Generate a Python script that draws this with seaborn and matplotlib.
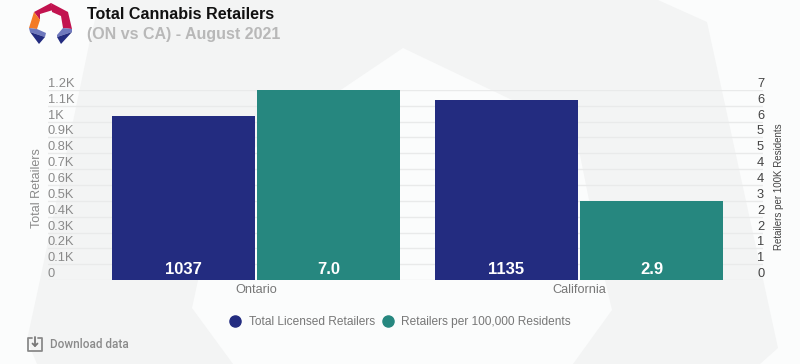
import matplotlib
matplotlib.use('Agg')
import numpy as np
import pandas as pd
import seaborn as sns
import matplotlib.pyplot as plt
from matplotlib.patches import Polygon
from matplotlib.lines import Line2D

regions = ['Ontario', 'California']
licensed = [1037, 1135]
per_100k = [7.0, 2.9]
licensed_name = 'Total Licensed Retailers'
per_100k_name = 'Retailers per 100,000 Residents'
left_ticks = [0, 100, 200, 300, 400, 500, 600, 700, 800, 900, 1000, 1100, 1200]
left_labels = ['0', '0.1K', '0.2K', '0.3K', '0.4K', '0.5K', '0.6K', '0.7K', '0.8K', '0.9K', '1K', '1.1K', '1.2K']
right_labels = ['0', '1', '1', '2', '2', '3', '4', '4', '5', '5', '6', '6', '7']

NAVY = '#232c80'
TEAL = '#26877f'
W, H = 800, 364

plt.rcParams['font.family'] = ['Liberation Sans', 'DejaVu Sans']

order = [licensed_name, per_100k_name]
colors = {licensed_name: NAVY, per_100k_name: TEAL}
# each axis gets both hue levels so the bars dodge, the other series is left empty
nan2 = [np.nan, np.nan]
df1 = pd.DataFrame({'region': regions * 2, 'value': licensed + nan2,
                    'series': [licensed_name] * 2 + [per_100k_name] * 2})
df2 = pd.DataFrame({'region': regions * 2, 'value': nan2 + per_100k,
                    'series': [licensed_name] * 2 + [per_100k_name] * 2})

fig = plt.figure(figsize=(W / 100, H / 100), dpi=100, facecolor='#fbfcfc')


def poly(points, color, z=0):
    # pixel coordinates, y going down
    fig.add_artist(Polygon([(x / W, 1 - y / H) for x, y in points], closed=True,
                           transform=fig.transFigure, facecolor=color,
                           edgecolor='none', zorder=z))


def line(xs, ys, color='#8a8a8a', lw=1.3):
    fig.add_artist(Line2D([x / W for x in xs], [1 - y / H for y in ys], color=color,
                          linewidth=lw, zorder=7, solid_capstyle='round'))


# watermark in the background
poly([(100, 0), (658, 0), (707, 22), (778, 348), (760, 364), (573, 364), (612, 310), (605, 280), (575, 130),
      (403, 48), (222, 170), (192, 308), (233, 364), (37, 364), (27, 340), (40, 280), (90, 40)],
     '#f3f4f4', -5)

# logo
poly([(34, 12), (51, 3), (53, 10), (40, 14), (40, 20)], '#c2134f', 5)
poly([(51, 3), (68, 12), (72, 29), (63, 28), (61, 16), (52, 12)], '#c2134f', 5)
poly([(34, 12), (40, 20), (37, 29), (29, 28)], '#f47a26', 5)
poly([(29, 28), (37, 29), (46, 33), (45, 37), (30, 32)], '#6e78bd', 5)
poly([(72, 29), (63, 28), (57, 35), (57, 37), (72, 32)], '#6e78bd', 5)
poly([(30, 32), (45, 37), (39, 44)], NAVY, 6)
poly([(72, 32), (57, 37), (61, 44)], NAVY, 6)

fig.text(87 / W, 1 - 14.5 / H, 'Total Cannabis Retailers', fontsize=11.6, fontweight='bold',
         color='#111111', va='center', ha='left')
fig.text(87 / W, 1 - 35 / H, '(ON vs CA) - August 2021', fontsize=11.5, fontweight='bold',
         color='#b8b8b8', va='center', ha='left')

# axes cover the gridline span, x limits put the bars where they belong
ax = fig.add_axes([48 / W, 1 - 280 / H, 715 / W, 190 / H])
ax.patch.set_alpha(0)
ax2 = ax.twinx()
ax2.patch.set_alpha(0)

sns.barplot(data=df1, x='region', y='value', hue='series', hue_order=order, order=regions,
            palette=colors, width=0.9, gap=0.012, ax=ax, legend=False, saturation=1)
sns.barplot(data=df2, x='region', y='value', hue='series', hue_order=order, order=regions,
            palette=colors, width=0.9, gap=0.012, ax=ax2, legend=False, saturation=1)

# one category is 323 px wide, Ontario sits at x = 256 px
ax.set_xlim((48 - 256) / 323, (763 - 256) / 323)
ax2.set_xlim(ax.get_xlim())
ax.set_ylim(0, 1200)
ax2.set_ylim(0, 7)

ax.set_yticks(left_ticks)
ax.set_yticklabels(left_labels)
ax2.set_yticks([7 * i / 12 for i in range(13)])
ax2.set_yticklabels(right_labels)

ax.grid(axis='y', color='#e9eaea', linewidth=1)
ax.set_axisbelow(True)
for a in (ax, ax2):
    sns.despine(ax=a, left=True, right=True, top=True, bottom=True)
    a.set_xlabel('')
ax2.grid(False)

ax.tick_params(axis='y', length=0, labelsize=9.3, labelcolor='#8a8a8a', pad=0)
for t in ax.get_yticklabels():
    t.set_va('bottom')
    t.set_ha('left')
ax.tick_params(axis='x', length=0, labelsize=9.2, labelcolor='#777777', pad=3)
ax2.tick_params(axis='y', length=0, labelsize=9.3, labelcolor='#444444', pad=-4.3)
for t in ax2.get_yticklabels():
    t.set_va('bottom')
ax.set_ylabel('Total Retailers', fontsize=9, color='#8a8a8a', labelpad=0)
ax.yaxis.set_label_coords(-5 / 715, 0.484)
ax2.set_ylabel('Retailers per 100K Residents', fontsize=7, color='#444444', labelpad=0)
ax2.yaxis.set_label_coords(1 + 11 / 715, 0.49)

# value labels at the foot of each bar
for a, cont, texts in [(ax, ax.containers[0], [str(v) for v in licensed]),
                       (ax2, ax2.containers[1], [f'{v:.1f}' for v in per_100k])]:
    for bar, txt in zip(cont, texts):
        a.annotate(txt, xy=(bar.get_x() + bar.get_width() / 2, 0), xytext=(0, 7.5), textcoords='offset points',
                   ha='center', va='center', color='white', fontsize=12, fontweight='bold')

handles = [Line2D([], [], marker='o', linestyle='', markersize=8, color=colors[s]) for s in order]
fig.legend(handles, order, loc='center', bbox_to_anchor=(400 / W, 1 - 322 / H), ncol=2, frameon=False,
           fontsize=8.6, labelcolor='#777777', handlelength=1, handletextpad=0.6, columnspacing=0.6,
           borderpad=0, borderaxespad=0)

# download link
fig.text(50 / W, 1 - 344 / H, 'Download data', fontsize=8.5, family='Roboto', fontweight='medium',
         color='#8a8a8a', va='center')
line([32, 28, 28, 42, 42, 38], [338, 338, 351, 351, 338, 338])
line([35, 35], [337, 346], '#777777')
line([32.5, 35, 37.5], [343.5, 346, 343.5], '#777777')

fig.savefig('out.png', dpi=100, facecolor=fig.get_facecolor())
